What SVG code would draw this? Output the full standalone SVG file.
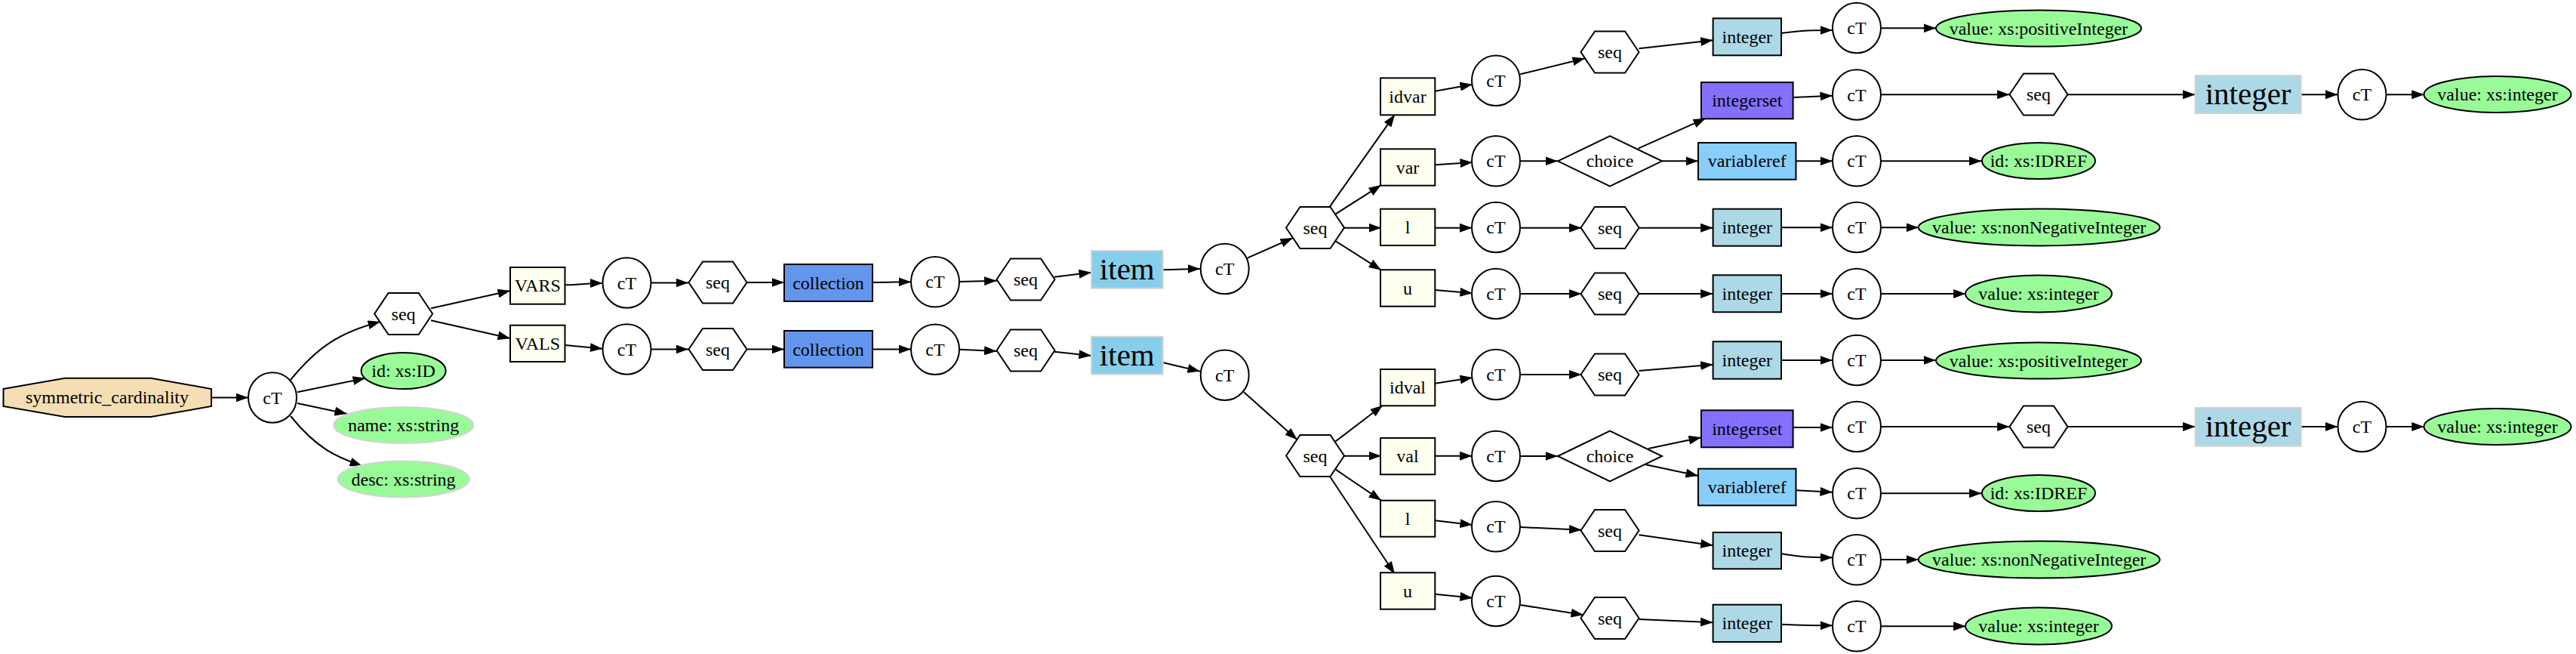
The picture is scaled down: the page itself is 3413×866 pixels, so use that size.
<svg xmlns="http://www.w3.org/2000/svg" xmlns:xlink="http://www.w3.org/1999/xlink" width="3413" height="866" viewBox="0 0 3413 866">
<style>
.t{font-family:"Liberation Serif","Times New Roman",serif;font-size:24px;text-anchor:middle;fill:#000}
.big{font-size:41px}
.e{fill:none;stroke:#000;stroke-width:2;marker-end:url(#a)}
.bx{stroke:#000;stroke-width:2}
.iv{fill:#fffff0}
.lb{fill:#add8e6}
.gr{fill:#98fb98;stroke:#000;stroke-width:2}
.gr2{fill:#98fb98;stroke:#d3d3d3;stroke-width:2}
</style>
<defs>
<marker id="a" markerWidth="17" markerHeight="12" refX="16.5" refY="6" orient="auto" markerUnits="userSpaceOnUse"><path d="M0,0 L16.5,6 L0,12 z" fill="#000"/></marker>
<polygon id="hex" points="-38.5,0 -20,-27.5 20,-27.5 38.5,0 20,27.5 -20,27.5" fill="#fff" stroke="#000" stroke-width="2"/>
<ellipse id="ct" cx="0" cy="0" rx="32" ry="33.3" fill="#fff" stroke="#000" stroke-width="2"/>
<polygon id="dia" points="-69,0 0,-33.3 69,0 0,33.3" fill="#fff" stroke="#000" stroke-width="2"/>
</defs>
<rect width="3413" height="866" fill="#fff"/>
<g id="edges">
<path class="e" d="M280,526.5 L329,526.5"/>
<path class="e" d="M385,503 C420,460 450,440 504,426"/>
<path class="e" d="M394,519.3 L484,500.7"/>
<path class="e" d="M394,534 L460,548"/>
<path class="e" d="M385,551 C420,594 445,605 480,617"/>
<path class="e" d="M571,408.3 L676,385"/>
<path class="e" d="M571,424.3 L676,448"/>
<path class="e" d="M749,377.3 C770,377 780,375 798.4,375"/>
<path class="e" d="M749,457 L798.4,461.7"/>
<path class="e" d="M863,374.5 L912,374.5"/>
<path class="e" d="M863,462.5 L912,462.5"/>
<path class="e" d="M990,374 L1039,374"/>
<path class="e" d="M990,462.5 L1039,462.5"/>
<path class="e" d="M1156,374 C1180,374 1190,373.3 1207,373.3"/>
<path class="e" d="M1156,462.5 L1207,462.5"/>
<path class="e" d="M1270.7,373 L1320.6,371.7"/>
<path class="e" d="M1270.7,462.7 L1320.6,465"/>
<path class="e" d="M1397,366.7 L1446,360.7"/>
<path class="e" d="M1397,465.7 L1446,471"/>
<path class="e" d="M1540.6,357.3 C1565,357 1570,356 1590,356"/>
<path class="e" d="M1540.6,480 L1590,491.7"/>
<path class="e" d="M1652.7,341.7 L1713,315"/>
<path class="e" d="M1648,519.3 L1718.7,582.3"/>
<path class="e" d="M1762,273.3 L1848,151.7"/>
<path class="e" d="M1769.6,283.3 L1830,245"/>
<path class="e" d="M1781,301.7 L1830,301.7"/>
<path class="e" d="M1769.6,319.3 L1830,357.7"/>
<path class="e" d="M1768.7,585 L1832,536.7"/>
<path class="e" d="M1781,603.7 L1830,603.7"/>
<path class="e" d="M1769.6,621.7 L1830,662.7"/>
<path class="e" d="M1762,631 L1848,760"/>
<path class="e" d="M1901.3,120.7 L1951,111.7"/>
<path class="e" d="M1901.3,218.3 L1951,215"/>
<path class="e" d="M1901.3,301.7 L1950.4,301.7"/>
<path class="e" d="M1901.3,384 L1951,388.3"/>
<path class="e" d="M1901.3,507.7 L1951,500"/>
<path class="e" d="M1901.3,603.7 L1950.4,603.7"/>
<path class="e" d="M1901.3,689.3 L1951,695"/>
<path class="e" d="M1901.3,786.7 L1951,791.7"/>
<path class="e" d="M2014.3,98.3 L2100,77.3"/>
<path class="e" d="M2014.3,213.3 L2064,213.3"/>
<path class="e" d="M2014,301.7 L2095.5,301.7"/>
<path class="e" d="M2014,389 L2095.5,389"/>
<path class="e" d="M2014.3,496 L2095.5,496"/>
<path class="e" d="M2014.3,604 L2064,604"/>
<path class="e" d="M2014.3,698 L2095.5,701.7"/>
<path class="e" d="M2014.3,801 L2098,814.3"/>
<path class="e" d="M2171.4,64.3 L2269.6,53.3"/>
<path class="e" d="M2170.5,196.7 L2260,156.7"/>
<path class="e" d="M2202,213.3 L2250,213.3"/>
<path class="e" d="M2171.4,301.7 L2269.6,301.7"/>
<path class="e" d="M2171.4,389 L2269.6,389"/>
<path class="e" d="M2171.4,491 L2269.6,482.7"/>
<path class="e" d="M2184,594 L2254,579.3"/>
<path class="e" d="M2179.5,615 L2250,630"/>
<path class="e" d="M2171.4,708.3 L2269.6,722.3"/>
<path class="e" d="M2171.4,820 L2269.6,824.3"/>
<path class="e" d="M2360,44 C2390,40 2400,40 2428,40"/>
<path class="e" d="M2375.6,129 L2428,126.7"/>
<path class="e" d="M2379.5,213.3 L2428,213.3"/>
<path class="e" d="M2360,301.3 L2428,301.3"/>
<path class="e" d="M2360,389 L2428,389"/>
<path class="e" d="M2360,477 L2428,477"/>
<path class="e" d="M2375.6,566 L2428,566"/>
<path class="e" d="M2379.5,649.3 L2428,651.7"/>
<path class="e" d="M2360,733.3 C2390,738 2400,738.3 2428,738.3"/>
<path class="e" d="M2360,826.7 C2390,828 2400,828.3 2428,828.3"/>
<path class="e" d="M2492.4,37.3 L2565,37.3"/>
<path class="e" d="M2492.4,125.3 L2662.6,125.3"/>
<path class="e" d="M2492.4,213.3 L2625.5,213.3"/>
<path class="e" d="M2492.4,301.3 L2542,301.3"/>
<path class="e" d="M2492.4,389 L2604.6,389"/>
<path class="e" d="M2492.4,477 L2565,477"/>
<path class="e" d="M2492.4,565 L2662.6,565"/>
<path class="e" d="M2492.4,653.3 L2625.5,653.3"/>
<path class="e" d="M2492.4,741 L2542,741"/>
<path class="e" d="M2492.4,829.3 L2604.6,829.3"/>
<path class="e" d="M2739,125.3 L2908.6,125.3"/>
<path class="e" d="M3048.6,125.3 L3097.4,125.3"/>
<path class="e" d="M3161.6,125.3 L3211.8,125.3"/>
<path class="e" d="M2739,565 L2908.6,565"/>
<path class="e" d="M3048.6,565 L3097.4,565"/>
<path class="e" d="M3161.6,565 L3211.8,565"/>
</g>
<g id="n_root"><polygon points="4.5,515 86,500.7 200,500.7 280,515 280,538 200,552 86,552 4.5,538" fill="#f5deb3" stroke="#000" stroke-width="2"/><text class="t" x="142" y="534">symmetric_cardinality</text></g>
<g id="n_ct0"><use xlink:href="#ct" x="361" y="526.5"/><text class="t" x="361" y="534.5">cT</text></g>
<g id="n_seq0"><use xlink:href="#hex" x="534.6" y="415.5"/><text class="t" x="534.6" y="423.5">seq</text></g>
<g id="n_id"><ellipse class="gr" cx="534.6" cy="491" rx="56" ry="24"/><text class="t" x="534.6" y="499">id: xs:ID</text></g>
<g id="n_name"><ellipse class="gr2" cx="534.6" cy="563" rx="92.5" ry="24"/><text class="t" x="534.6" y="571">name: xs:string</text></g>
<g id="n_desc"><ellipse class="gr2" cx="534.6" cy="634.5" rx="87" ry="24"/><text class="t" x="534.6" y="642.5">desc: xs:string</text></g>
<g id="n_vars"><rect class="bx iv" x="676" y="354" width="72.5" height="48.7"/><text class="t" x="712.3" y="386">VARS</text></g>
<g id="n_vals"><rect class="bx iv" x="676" y="430.7" width="72.5" height="48.3"/><text class="t" x="712.3" y="463">VALS</text></g>
<g id="n_ct1a"><use xlink:href="#ct" x="830.5" y="374.5"/><text class="t" x="830.5" y="382.5">cT</text></g>
<g id="n_ct1b"><use xlink:href="#ct" x="830.5" y="462.5"/><text class="t" x="830.5" y="470.5">cT</text></g>
<g id="n_seq1a"><use xlink:href="#hex" x="951" y="374"/><text class="t" x="951" y="382">seq</text></g>
<g id="n_seq1b"><use xlink:href="#hex" x="951" y="462.5"/><text class="t" x="951" y="470.5">seq</text></g>
<g id="n_coll1"><rect class="bx" fill="#6495ed" x="1039" y="350" width="117" height="49"/><text class="t" x="1097.5" y="382.5">collection</text></g>
<g id="n_coll2"><rect class="bx" fill="#6495ed" x="1039" y="438" width="117" height="48.7"/><text class="t" x="1097.5" y="470.5">collection</text></g>
<g id="n_ct2a"><use xlink:href="#ct" x="1239" y="373.3"/><text class="t" x="1239" y="381.3">cT</text></g>
<g id="n_ct2b"><use xlink:href="#ct" x="1239" y="462.7"/><text class="t" x="1239" y="470.7">cT</text></g>
<g id="n_seq2a"><use xlink:href="#hex" x="1359" y="370"/><text class="t" x="1359" y="378">seq</text></g>
<g id="n_seq2b"><use xlink:href="#hex" x="1359" y="464"/><text class="t" x="1359" y="472">seq</text></g>
<g id="n_item1"><rect fill="#87ceeb" stroke="#d3d3d3" stroke-width="2" x="1446" y="332" width="94.6" height="49.7"/><text class="t big" x="1493.3" y="370">item</text></g>
<g id="n_item2"><rect fill="#87ceeb" stroke="#d3d3d3" stroke-width="2" x="1446" y="445.7" width="94.6" height="50"/><text class="t big" x="1493.3" y="484">item</text></g>
<g id="n_ct3a"><use xlink:href="#ct" x="1622.7" y="356"/><text class="t" x="1622.7" y="364">cT</text></g>
<g id="n_ct3b"><use xlink:href="#ct" x="1622.7" y="496.7"/><text class="t" x="1622.7" y="504.7">cT</text></g>
<g id="n_seqA"><use xlink:href="#hex" x="1742.5" y="301.5"/><text class="t" x="1742.5" y="309.5">seq</text></g>
<g id="n_seqB"><use xlink:href="#hex" x="1742.5" y="603.5"/><text class="t" x="1742.5" y="611.5">seq</text></g>
<g id="n_idvar"><rect class="bx iv" x="1829" y="103.3" width="72.3" height="49"/><text class="t" x="1865" y="136">idvar</text></g>
<g id="n_var"><rect class="bx iv" x="1829" y="197.3" width="72.3" height="48.4"/><text class="t" x="1865" y="229.5">var</text></g>
<g id="n_l1"><rect class="bx iv" x="1829" y="276.7" width="72.3" height="48.3"/><text class="t" x="1865" y="309">l</text></g>
<g id="n_u1"><rect class="bx iv" x="1829" y="357.3" width="72.3" height="48.4"/><text class="t" x="1865" y="389.5">u</text></g>
<g id="n_idval"><rect class="bx iv" x="1829" y="489" width="72.3" height="48.3"/><text class="t" x="1865" y="521">idval</text></g>
<g id="n_val"><rect class="bx iv" x="1829" y="580" width="72.3" height="48.3"/><text class="t" x="1865" y="612">val</text></g>
<g id="n_l2"><rect class="bx iv" x="1829" y="662.7" width="72.3" height="48"/><text class="t" x="1865" y="694.7">l</text></g>
<g id="n_u2"><rect class="bx iv" x="1829" y="758.3" width="72.3" height="48.4"/><text class="t" x="1865" y="790.5">u</text></g>
<g id="n_ct4a"><use xlink:href="#ct" x="1982" y="106.7"/><text class="t" x="1982" y="114.7">cT</text></g>
<g id="n_ct4b"><use xlink:href="#ct" x="1982" y="213.3"/><text class="t" x="1982" y="221.3">cT</text></g>
<g id="n_ct4c"><use xlink:href="#ct" x="1982" y="301"/><text class="t" x="1982" y="309">cT</text></g>
<g id="n_ct4d"><use xlink:href="#ct" x="1982" y="389"/><text class="t" x="1982" y="397">cT</text></g>
<g id="n_ct4e"><use xlink:href="#ct" x="1982" y="496"/><text class="t" x="1982" y="504">cT</text></g>
<g id="n_ct4f"><use xlink:href="#ct" x="1982" y="604"/><text class="t" x="1982" y="612">cT</text></g>
<g id="n_ct4g"><use xlink:href="#ct" x="1982" y="697.3"/><text class="t" x="1982" y="705.3">cT</text></g>
<g id="n_ct4h"><use xlink:href="#ct" x="1982" y="796"/><text class="t" x="1982" y="804">cT</text></g>
<g id="n_seq5a"><use xlink:href="#hex" x="2133" y="69"/><text class="t" x="2133" y="77">seq</text></g>
<g id="n_choice1"><use xlink:href="#dia" x="2133" y="213.3"/><text class="t" x="2133" y="221.3">choice</text></g>
<g id="n_seq5c"><use xlink:href="#hex" x="2133" y="301.5"/><text class="t" x="2133" y="309.5">seq</text></g>
<g id="n_seq5d"><use xlink:href="#hex" x="2133" y="389"/><text class="t" x="2133" y="397">seq</text></g>
<g id="n_seq5e"><use xlink:href="#hex" x="2133" y="496"/><text class="t" x="2133" y="504">seq</text></g>
<g id="n_choice2"><use xlink:href="#dia" x="2133" y="604"/><text class="t" x="2133" y="612">choice</text></g>
<g id="n_seq5g"><use xlink:href="#hex" x="2133" y="702.5"/><text class="t" x="2133" y="710.5">seq</text></g>
<g id="n_seq5h"><use xlink:href="#hex" x="2133" y="818.5"/><text class="t" x="2133" y="826.5">seq</text></g>
<g id="n_int1"><rect class="bx lb" x="2269.6" y="24.3" width="90.4" height="49"/><text class="t" x="2314.8" y="56.8">integer</text></g>
<g id="n_iset1"><rect class="bx" fill="#8470ff" x="2254" y="109" width="121.6" height="48.3"/><text class="t" x="2314.8" y="141">integerset</text></g>
<g id="n_vref1"><rect class="bx" fill="#87cefa" x="2250" y="189" width="129.5" height="48.7"/><text class="t" x="2314.8" y="221.3">variableref</text></g>
<g id="n_int3"><rect class="bx lb" x="2269.6" y="276.7" width="90.4" height="49"/><text class="t" x="2314.8" y="309">integer</text></g>
<g id="n_int4"><rect class="bx lb" x="2269.6" y="364.3" width="90.4" height="49"/><text class="t" x="2314.8" y="397">integer</text></g>
<g id="n_int5"><rect class="bx lb" x="2269.6" y="452.3" width="90.4" height="49.4"/><text class="t" x="2314.8" y="485">integer</text></g>
<g id="n_iset2"><rect class="bx" fill="#8470ff" x="2254" y="543.3" width="121.6" height="49"/><text class="t" x="2314.8" y="576">integerset</text></g>
<g id="n_vref2"><rect class="bx" fill="#87cefa" x="2250" y="620.7" width="129.5" height="48.6"/><text class="t" x="2314.8" y="653">variableref</text></g>
<g id="n_int7"><rect class="bx lb" x="2269.6" y="705" width="90.4" height="48.3"/><text class="t" x="2314.8" y="737">integer</text></g>
<g id="n_int8"><rect class="bx lb" x="2269.6" y="800.7" width="90.4" height="49.3"/><text class="t" x="2314.8" y="833.3">integer</text></g>
<g id="n_ct6a"><use xlink:href="#ct" x="2460" y="37"/><text class="t" x="2460" y="45">cT</text></g>
<g id="n_ct6b"><use xlink:href="#ct" x="2460" y="125.5"/><text class="t" x="2460" y="133.5">cT</text></g>
<g id="n_ct6c"><use xlink:href="#ct" x="2460" y="213.3"/><text class="t" x="2460" y="221.3">cT</text></g>
<g id="n_ct6d"><use xlink:href="#ct" x="2460" y="301"/><text class="t" x="2460" y="309">cT</text></g>
<g id="n_ct6e"><use xlink:href="#ct" x="2460" y="389"/><text class="t" x="2460" y="397">cT</text></g>
<g id="n_ct6f"><use xlink:href="#ct" x="2460" y="477"/><text class="t" x="2460" y="485">cT</text></g>
<g id="n_ct6g"><use xlink:href="#ct" x="2460" y="565"/><text class="t" x="2460" y="573">cT</text></g>
<g id="n_ct6h"><use xlink:href="#ct" x="2460" y="653.3"/><text class="t" x="2460" y="661.3">cT</text></g>
<g id="n_ct6i"><use xlink:href="#ct" x="2460" y="741.3"/><text class="t" x="2460" y="749.3">cT</text></g>
<g id="n_ct6j"><use xlink:href="#ct" x="2460" y="829.3"/><text class="t" x="2460" y="837.3">cT</text></g>
<g id="n_v1"><ellipse class="gr" cx="2701" cy="37.5" rx="136" ry="24"/><text class="t" x="2701" y="45.5">value: xs:positiveInteger</text></g>
<g id="n_seq7a"><use xlink:href="#hex" x="2701" y="125"/><text class="t" x="2701" y="133">seq</text></g>
<g id="n_idref1"><ellipse class="gr" cx="2701" cy="213" rx="75" ry="24"/><text class="t" x="2701" y="221">id: xs:IDREF</text></g>
<g id="n_v3"><ellipse class="gr" cx="2701.7" cy="301" rx="160" ry="24.5"/><text class="t" x="2701.7" y="309">value: xs:nonNegativeInteger</text></g>
<g id="n_v4"><ellipse class="gr" cx="2701" cy="389" rx="97" ry="24.5"/><text class="t" x="2701" y="397">value: xs:integer</text></g>
<g id="n_v5"><ellipse class="gr" cx="2701" cy="477.5" rx="136" ry="24"/><text class="t" x="2701" y="485.5">value: xs:positiveInteger</text></g>
<g id="n_seq7b"><use xlink:href="#hex" x="2701" y="565"/><text class="t" x="2701" y="573">seq</text></g>
<g id="n_idref2"><ellipse class="gr" cx="2701" cy="653" rx="75" ry="24"/><text class="t" x="2701" y="661">id: xs:IDREF</text></g>
<g id="n_v7"><ellipse class="gr" cx="2701.7" cy="741" rx="160" ry="24.5"/><text class="t" x="2701.7" y="749">value: xs:nonNegativeInteger</text></g>
<g id="n_v8"><ellipse class="gr" cx="2701" cy="829" rx="97" ry="24.5"/><text class="t" x="2701" y="837">value: xs:integer</text></g>
<g id="n_bigint1"><rect class="lb" stroke="#d3d3d3" stroke-width="2" x="2908.6" y="100" width="140" height="50"/><text class="t big" x="2978.6" y="138">integer</text></g>
<g id="n_bigint2"><rect class="lb" stroke="#d3d3d3" stroke-width="2" x="2908.6" y="540" width="140" height="50.7"/><text class="t big" x="2978.6" y="578">integer</text></g>
<g id="n_ct8a"><use xlink:href="#ct" x="3129.5" y="125.3"/><text class="t" x="3129.5" y="133.3">cT</text></g>
<g id="n_ct8b"><use xlink:href="#ct" x="3129.5" y="565"/><text class="t" x="3129.5" y="573">cT</text></g>
<g id="n_vi1"><ellipse class="gr" cx="3309" cy="125" rx="97.5" ry="24"/><text class="t" x="3309" y="133">value: xs:integer</text></g>
<g id="n_vi2"><ellipse class="gr" cx="3309" cy="565" rx="97.5" ry="24"/><text class="t" x="3309" y="573">value: xs:integer</text></g>
</svg>
